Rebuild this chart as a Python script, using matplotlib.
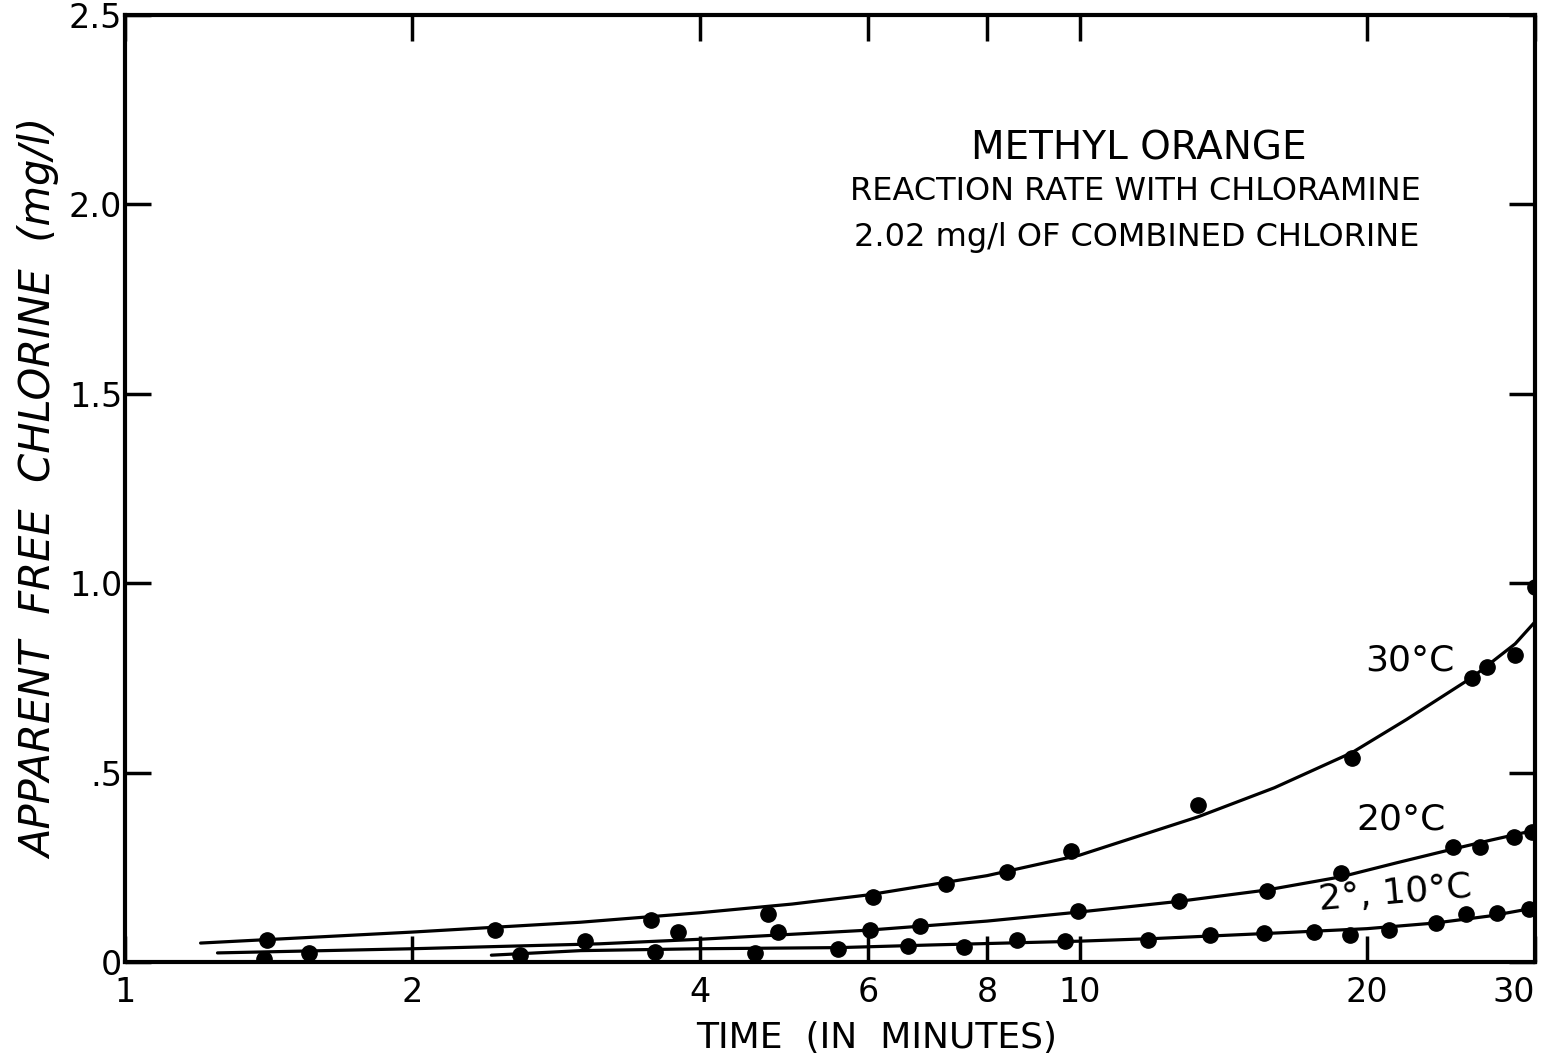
import numpy as np
import matplotlib
matplotlib.use("Agg")
import matplotlib.pyplot as plt

# measured points (time in minutes, apparent free chlorine mg/l)
t30 = [1.41, 2.44, 3.56, 4.72, 6.08, 7.24, 8.39, 9.80, 13.3, 19.3, 25.8, 26.7, 28.6, 30.0]
c30 = [0.058, 0.084, 0.111, 0.127, 0.172, 0.206, 0.238, 0.293, 0.414, 0.539, 0.750, 0.779, 0.810, 0.990]

t20 = [1.56, 3.03, 3.80, 4.83, 6.03, 6.81, 9.96, 12.7, 15.7, 18.8, 24.6, 26.3, 28.5, 29.8]
c20 = [0.024, 0.055, 0.079, 0.079, 0.084, 0.095, 0.135, 0.161, 0.187, 0.235, 0.304, 0.304, 0.330, 0.343]

t10 = [1.40, 2.59, 3.59, 4.57, 5.58, 6.61, 7.57, 8.60, 9.65, 11.8, 13.7, 15.6, 17.6, 19.2,
       21.1, 23.6, 25.4, 27.4, 29.6]
c10 = [0.008, 0.018, 0.026, 0.024, 0.034, 0.042, 0.040, 0.058, 0.055, 0.058, 0.071, 0.077,
       0.079, 0.071, 0.084, 0.103, 0.127, 0.129, 0.140]

# hand-drawn fitted curves
ft30 = [1.2, 2, 3, 4, 5, 6, 8, 10, 13.3, 16, 19.3, 22, 25.8, 28.6, 30]
fc30 = [0.050, 0.079, 0.105, 0.130, 0.153, 0.177, 0.228, 0.282, 0.383, 0.460, 0.553, 0.640, 0.752, 0.840, 0.898]

ft20 = [1.25, 2, 3.14, 4, 6, 8, 10, 12.7, 15.7, 18.8, 21.5, 24.6, 27, 30]
fc20 = [0.024, 0.035, 0.048, 0.060, 0.084, 0.108, 0.132, 0.160, 0.190, 0.225, 0.262, 0.298, 0.322, 0.348]

ft10 = [2.42, 3.0, 4, 5.6, 7, 10, 12, 15.6, 20, 23.6, 27, 30]
fc10 = [0.018, 0.030, 0.035, 0.038, 0.045, 0.055, 0.062, 0.075, 0.088, 0.103, 0.122, 0.143]

xticks = [1, 2, 4, 6, 8, 10, 20, 30]
xticklabels = ["1", "2", "4", "6", "8", "10", "20", "30"]
yticks = [0, 0.5, 1.0, 1.5, 2.0, 2.5]
yticklabels = ["0", ".5", "1.0", "1.5", "2.0", "2.5"]

plt.rcParams["font.family"] = ["DejaVu Sans"]

fig = plt.figure(figsize=(15.48, 10.59), dpi=100)
ax = fig.add_axes([125 / 1548, 1 - 962 / 1059, (1535 - 125) / 1548, (962 - 15) / 1059])

for ft, fc in [(ft30, fc30), (ft20, fc20), (ft10, fc10)]:
    ax.plot(ft, fc, color="black", lw=2.3, solid_capstyle="round", solid_joinstyle="round")
for t, c in [(t30, c30), (t20, c20), (t10, c10)]:
    ax.plot(t, c, "o", color="black", ms=11, ls="none")

ax.set_xscale("log")
ax.set_xlim(1, 30)
ax.set_ylim(0, 2.5)
ax.set_xticks(xticks)
ax.set_xticklabels(xticklabels)
ax.xaxis.set_minor_locator(matplotlib.ticker.NullLocator())
ax.set_yticks(yticks)
ax.set_yticklabels(yticklabels)

ax.tick_params(axis="both", which="major", direction="in", length=19, width=2.5,
               top=True, right=True, labelsize=24)
ax.tick_params(axis="x", pad=10)
ax.tick_params(axis="y", pad=2)
ax.get_xticklabels()[-1].set_horizontalalignment("right")
for sp in ax.spines.values():
    sp.set_linewidth(3)

ax.set_xlabel("TIME  (IN  MINUTES)", fontsize=26)
ax.xaxis.set_label_coords((877 - 125) / 1410, -0.062)
ax.set_ylabel("APPARENT  FREE  CHLORINE  (mg/l)", fontsize=30, style="italic")
ax.yaxis.set_label_coords((61 - 125) / 1410, 0.5)

# curve labels
ax.text(22.2, 0.797, "30°C", fontsize=26, ha="center", va="center")
ax.text(21.7, 0.375, "20°C", fontsize=26, ha="center", va="center")
ax.text(21.4, 0.182, "2°, 10°C", fontsize=26, ha="center", va="center", rotation=5)

# title block
fig.text(1139 / 1548, 1 - 148 / 1059, "METHYL ORANGE", fontsize=28, ha="center", va="center")
fig.text(1135 / 1548, 1 - 192 / 1059, "REACTION RATE WITH CHLORAMINE", fontsize=23,
         ha="center", va="center")
fig.text(1137 / 1548, 1 - 237 / 1059, "2.02 mg/l OF COMBINED CHLORINE", fontsize=23,
         ha="center", va="center")

fig.savefig("out.png", dpi=100)
